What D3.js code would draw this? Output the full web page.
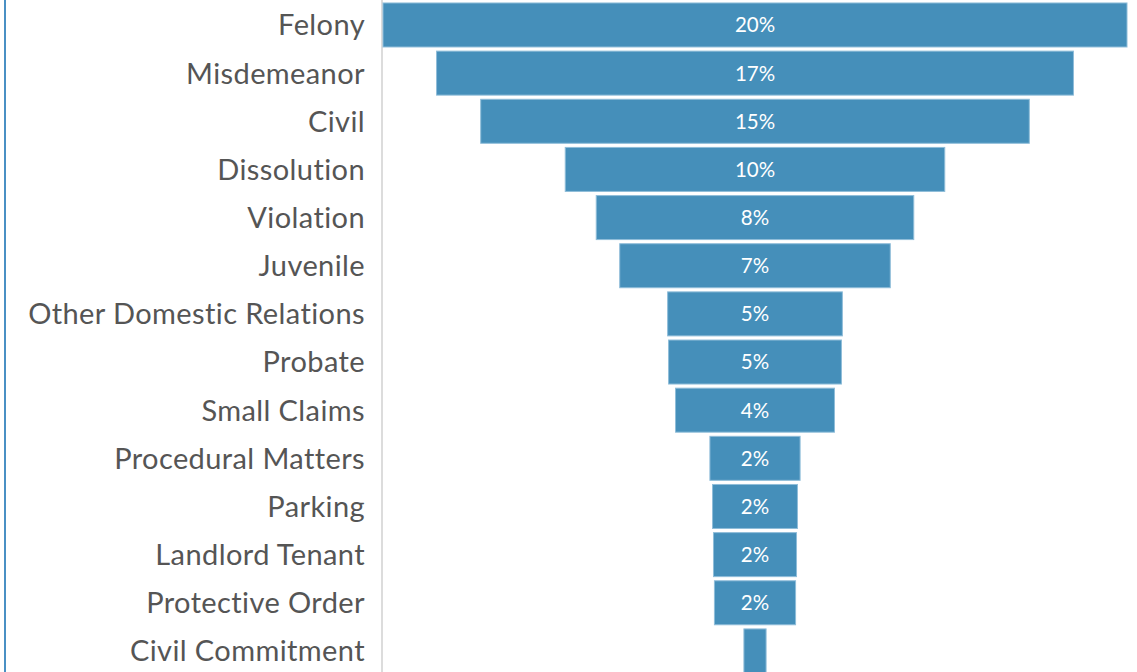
<!DOCTYPE html>
<html><head><meta charset="utf-8">
<script src="https://cdn.jsdelivr.net/npm/d3@7"></script>
<style>body{margin:0;background:#fff;}svg{display:block;}text{font-variant-ligatures:none;font-feature-settings:"liga" 0;}</style>
</head><body>
<svg id="c" width="1137" height="672"></svg>
<script>
const categories = ["Felony","Misdemeanor","Civil","Dissolution","Violation","Juvenile","Other Domestic Relations","Probate","Small Claims","Procedural Matters","Parking","Landlord Tenant","Protective Order","Civil Commitment"];
const values = [19.8,16.95,14.6,10.1,8.45,7.2,4.65,4.6,4.23,2.4,2.26,2.21,2.16,0.59];

const svg = d3.select("#c");
const W = 1137, H = 672;
const cx = 755;
const y = d3.scaleBand().domain(categories).range([0.9, 0.9 + 14 * 48.15]).paddingInner(0.086).paddingOuter(0.043);
const x = d3.scaleLinear().domain([0, d3.max(values)]).range([0, 744]);

// left border
svg.append("line").attr("x1",5).attr("x2",5).attr("y1",0).attr("y2",H).attr("stroke","#4a90c4").attr("stroke-width",2);
// separator
svg.append("line").attr("x1",382).attr("x2",382).attr("y1",0).attr("y2",H).attr("stroke","#dcdcdc").attr("stroke-width",2);

const data = categories.map((c,i)=>({c, v: values[i]}));

svg.selectAll("rect.bar").data(data).enter().append("rect")
  .attr("class","bar")
  .attr("x", d => cx - x(d.v)/2)
  .attr("y", d => y(d.c))
  .attr("width", d => x(d.v))
  .attr("height", y.bandwidth())
  .attr("fill","#458fba")
  .attr("stroke","#8fbdd9").attr("stroke-width",1);

svg.selectAll("text.val").data(data.filter(d => x(d.v) > 40)).enter().append("text")
  .attr("class","val")
  .attr("x", cx)
  .attr("y", d => y(d.c) + y.bandwidth()/2)
  .attr("dy","0.36em")
  .attr("text-anchor","middle")
  .attr("fill","#fff")
  .attr("font-family","Lato, sans-serif")
  .attr("font-size",20.5)
  .text(d => Math.round(d.v) + "%");

svg.selectAll("text.cat").data(data).enter().append("text")
  .attr("class","cat")
  .attr("x", 365)
  .attr("y", d => y(d.c) + y.bandwidth()/2)
  .attr("dy","0.36em")
  .attr("text-anchor","end")
  .attr("fill","#555")
  .attr("font-family","Lato, sans-serif")
  .attr("font-size",29)
  .attr("letter-spacing",0.4)
  .text(d => d.c);
</script>
</body></html>
